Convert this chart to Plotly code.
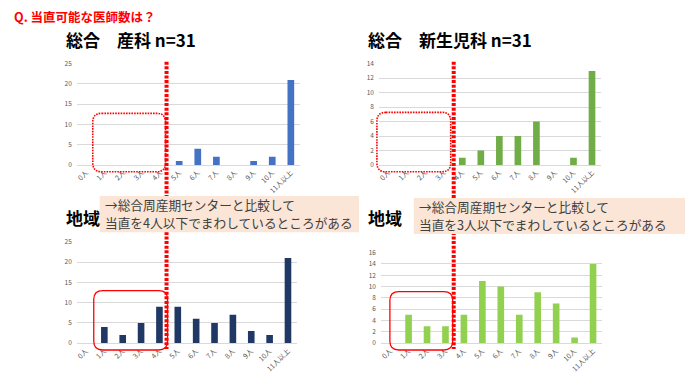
import plotly.graph_objects as go

# The page body adds an 8px margin; the figure is sized to fit the window.
OFF = 8
W, H = 693 - OFF, 391 - OFF
FONT = "Noto Sans CJK JP"

categories = ["0人", "1人", "2人", "3人", "4人", "5人", "6人", "7人", "8人", "9人", "10人", "11人以上"]
sogo_sanka = [0, 0, 0, 0, 0, 1, 4, 2, 0, 1, 2, 21]
sogo_shinseiji = [0, 0, 0, 0, 1, 2, 4, 4, 6, 0, 1, 13]
chiiki_sanka = [0, 4, 2, 5, 9, 9, 6, 5, 7, 3, 2, 21]
chiiki_shinseiji = [0, 5, 3, 3, 5, 11, 10, 5, 9, 7, 1, 14]

main_title = "Q. 当直可能な医師数は？"
panel_titles = ["総合　産科 n=31", "総合　新生児科 n=31", "地域", "地域"]
note_left = ["→総合周産期センターと比較して", "当直を4人以下でまわしているところがある"]
note_right = ["→総合周産期センターと比較して", "当直を3人以下でまわしているところがある"]


def px(x):
    return (x - OFF) / W


def py(y):
    return 1 - (y - OFF) / H


panels = [
    # values, color, x0, x1 (px), ytop, ybottom (px), ymax, dtick
    (sogo_sanka, "#4472C4", 75, 299, 59, 163, 25, 5),
    (sogo_shinseiji, "#70AD47", 378, 601, 59, 163, 14, 2),
    (chiiki_sanka, "#203864", 75, 296, 242, 346, 25, 5),
    (chiiki_shinseiji, "#92D050", 380, 602, 253, 346, 16, 2),
]

fig = go.Figure()
layout = dict(
    width=W, height=H, autosize=False,
    margin=dict(l=0, r=0, t=0, b=0),
    paper_bgcolor="white", plot_bgcolor="white",
    showlegend=False,
    font=dict(family=FONT, color="#595959"),
    bargap=0.64,
)

for i, (vals, color, x0, x1, yt, yb, ymax, dt) in enumerate(panels):
    n = "" if i == 0 else str(i + 1)
    fig.add_trace(go.Bar(x=categories, y=vals, marker=dict(color=color, line=dict(width=0)),
                         xaxis="x" + n, yaxis="y" + n, hoverinfo="x+y"))
    layout["xaxis" + n] = dict(
        domain=[px(x0), px(x1)], anchor="y" + n, type="category",
        tickangle=-45, tickfont=dict(size=7, color="#595959", family=FONT),
        showline=True, linecolor="#D9D9D9", linewidth=1, ticks="", showgrid=False,
        fixedrange=True,
    )
    layout["yaxis" + n] = dict(
        domain=[py(yb), py(yt)], anchor="x" + n, range=[0, ymax], dtick=dt,
        tickfont=dict(size=6.5, color="#595959", family=FONT),
        showgrid=True, gridcolor="#D9D9D9", gridwidth=1, zeroline=False,
        showline=False, ticks="", ticklabelstandoff=4, fixedrange=True,
    )

fig.update_layout(**layout)

annotations = []
annotations.append(dict(x=px(10), y=py(11), xref="paper", yref="paper", xanchor="left", yanchor="middle",
                        text="<b>" + main_title + "</b>", showarrow=False,
                        font=dict(size=12.5, color="#FF0000", family=FONT)))
for (tx, ty), t in zip([(62, 34), (365, 34), (62, 217), (365, 217)], panel_titles):
    annotations.append(dict(x=px(tx), y=py(ty), xref="paper", yref="paper", xanchor="left", yanchor="middle",
                            text="<b>" + t + "</b>", showarrow=False,
                            font=dict(size=17, color="#000000", family=FONT)))

shapes = []
# red dotted dividing lines
for lx in (165, 453):
    shapes.append(dict(type="line", xref="paper", yref="paper", x0=px(lx), x1=px(lx),
                       y0=py(57), y1=py(352), line=dict(color="#FF0000", width=4, dash="3px,1.6px"),
                       layer="above"))


def rrect(x0, y0, x1, y1, r):
    rx, ry = r / W, r / H
    X0, X1, Y0, Y1 = px(x0), px(x1), py(y0), py(y1)
    return (f"M {X0+rx},{Y0} L {X1-rx},{Y0} Q {X1},{Y0} {X1},{Y0-ry} "
            f"L {X1},{Y1+ry} Q {X1},{Y1} {X1-rx},{Y1} L {X0+rx},{Y1} "
            f"Q {X0},{Y1} {X0},{Y1+ry} L {X0},{Y0-ry} Q {X0},{Y0} {X0+rx},{Y0} Z")


shapes.append(dict(type="path", xref="paper", yref="paper", path=rrect(91, 110, 164, 170, 9),
                   line=dict(color="#FF0000", width=1.6, dash="1.6px,1.1px"), layer="above"))
shapes.append(dict(type="path", xref="paper", yref="paper", path=rrect(376, 109, 450, 170, 9),
                   line=dict(color="#FF0000", width=1.6, dash="1.6px,1.1px"), layer="above"))
shapes.append(dict(type="path", xref="paper", yref="paper", path=rrect(92, 292, 166, 353, 9),
                   line=dict(color="#FF0000", width=1.3), layer="above"))
shapes.append(dict(type="path", xref="paper", yref="paper", path=rrect(389, 293, 452, 353, 9),
                   line=dict(color="#FF0000", width=1.3), layer="above"))

# note boxes
for (bx0, by0, bx1, by1), lines in zip([(98, 195, 358, 232), (413, 197, 685, 234)], [note_left, note_right]):
    shapes.append(dict(type="rect", xref="paper", yref="paper", x0=px(bx0), x1=px(bx1),
                       y0=py(by1), y1=py(by0), fillcolor="#FBE5D6", line=dict(width=0), layer="above"))
    for k, txt in enumerate(lines):
        annotations.append(dict(x=px(bx0 + 4), y=py(by0 + 8.5 + 18.5 * k), xref="paper", yref="paper",
                                xanchor="left", yanchor="middle", align="left", text=txt, showarrow=False,
                                borderpad=0, font=dict(size=12.7, color="#404040", family=FONT)))

fig.update_layout(shapes=shapes, annotations=annotations)
fig.write_html("out.html")
